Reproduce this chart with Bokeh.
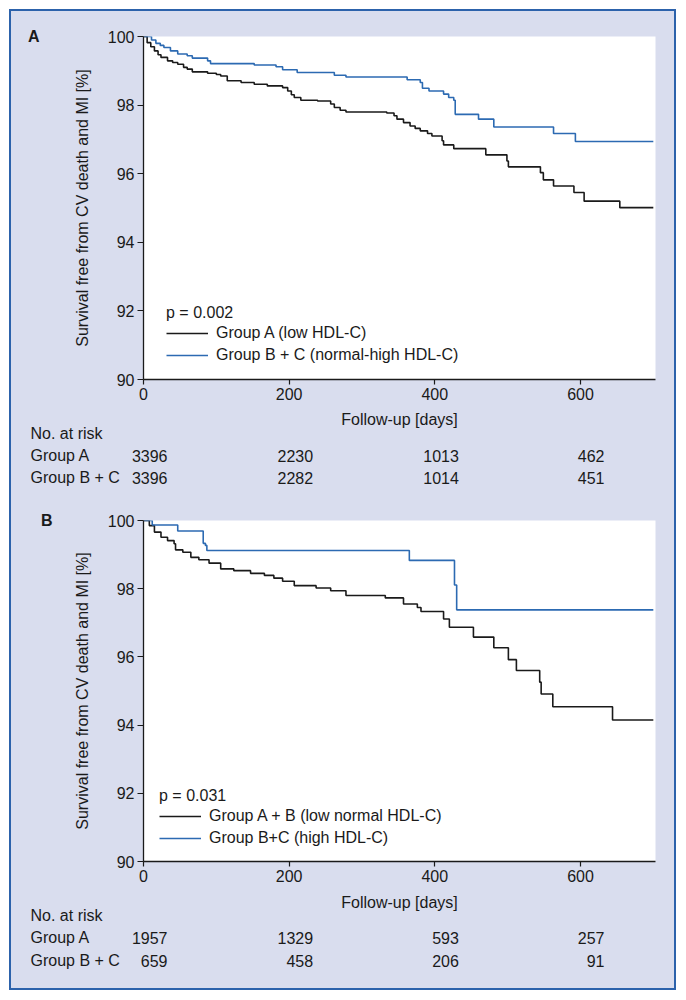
from bokeh.plotting import figure
from bokeh.layouts import column
from bokeh.models import (Range1d, FixedTicker, Legend, LinearAxis, ColumnDataSource)
from bokeh.core.properties import value
from bokeh.embed import file_html
from bokeh.resources import INLINE

# ---------------- data ----------------
x_ticks = [0, 200, 400, 600]
y_ticks = [90, 92, 94, 96, 98, 100]

# Panel A
a_black_t = [0, 5, 10, 15, 20, 24, 33, 40, 47, 55, 60, 67, 88, 100, 106, 115, 134, 152, 170, 191,
             198, 203, 207, 216, 239, 257, 262, 270, 278, 334, 344, 348, 357, 366, 373, 380, 390,
             396, 410, 412, 426, 470, 499, 501, 545, 549, 563, 591, 605, 654, 700]
a_black_s = [100, 99.82, 99.70, 99.58, 99.47, 99.39, 99.29, 99.24, 99.19, 99.10, 99.05, 98.97, 98.93,
             98.89, 98.85, 98.71, 98.66, 98.61, 98.56, 98.51, 98.41, 98.30, 98.22, 98.14, 98.12,
             98.03, 97.93, 97.85, 97.80, 97.77, 97.69, 97.59, 97.49, 97.39, 97.32, 97.25, 97.17,
             97.10, 96.96, 96.84, 96.73, 96.55, 96.37, 96.20, 96.03, 95.82, 95.64, 95.45, 95.20,
             95.01, 95.01]
a_blue_t = [0, 11, 17, 23, 28, 37, 47, 60, 67, 88, 92, 152, 182, 191, 211, 262, 278, 362, 380, 383,
            392, 412, 419, 426, 428, 460, 481, 563, 593, 700]
a_blue_s = [100, 99.90, 99.80, 99.74, 99.68, 99.58, 99.49, 99.44, 99.37, 99.29, 99.21, 99.17, 99.12,
            99.03, 98.95, 98.87, 98.82, 98.74, 98.66, 98.49, 98.41, 98.32, 98.22, 98.14, 97.73,
            97.59, 97.36, 97.17, 96.94, 96.94]
a_p = "p = 0.002"
a_names = ["Group A (low HDL-C)", "Group B + C (normal-high HDL-C)"]
a_risk_black = ["3396", "2230", "1013", "462"]
a_risk_blue = ["3396", "2282", "1014", "451"]

# Panel B
b_black_t = [0, 8, 15, 24, 33, 42, 44, 54, 65, 76, 90, 106, 124, 147, 166, 179, 191, 207, 237, 257,
             278, 332, 357, 376, 381, 412, 420, 453, 481, 501, 512, 544, 546, 562, 644, 700]
b_black_s = [100, 99.85, 99.66, 99.51, 99.41, 99.32, 99.14, 99.07, 98.92, 98.85, 98.75, 98.58,
             98.53, 98.45, 98.39, 98.31, 98.22, 98.09, 98.02, 97.94, 97.80, 97.73, 97.55, 97.45,
             97.33, 97.11, 96.87, 96.58, 96.27, 95.92, 95.60, 95.26, 94.91, 94.54, 94.15, 94.15]
b_blue_t = [0, 12, 47, 82, 85, 87, 365, 427, 430, 700]
b_blue_s = [100, 99.87, 99.69, 99.33, 99.27, 99.12, 98.83, 98.11, 97.38, 97.38]
b_p = "p = 0.031"
b_names = ["Group A + B (low normal HDL-C)", "Group B+C (high HDL-C)"]
b_risk_black = ["1957", "1329", "593", "257"]
b_risk_blue = ["659", "458", "206", "91"]

x_label = "Follow-up [days]"
y_label = "Survival free from CV death and MI [%]"
row_labels = ["No. at risk", "Group A", "Group B + C"]

# ---------------- style / layout ----------------
FONT = "Liberation Sans"
FS = "16px"
BG = "#d9ddee"
BLACK = "#1a1a1a"
BLUE = "#2c6ab2"
TXT = "#1a1a1a"

W = 663            # canvas width
LEFT, RIGHT = 132, 19
FRAME_W = W - LEFT - RIGHT
X_END = 703
K = X_END / FRAME_W  # days per pixel


def km_panel(letter, letter_standoff, t1, s1, t2, s2, ptxt, names, height, top, bottom, legend_loc):
    p = figure(width=W, height=height, output_backend="svg", toolbar_location=None,
               x_range=Range1d(0, X_END), y_range=Range1d(90, 100),
               min_border_left=LEFT, min_border_right=RIGHT, min_border_top=top,
               min_border_bottom=bottom, frame_align=False)
    p.background_fill_color = "white"
    p.border_fill_color = BG
    p.outline_line_color = None
    p.grid.visible = False

    r1 = p.step(t1, s1, mode="after", line_color=BLACK, line_width=1.6)
    r2 = p.step(t2, s2, mode="after", line_color=BLUE, line_width=1.6)

    for ax in (p.xaxis[0], p.yaxis[0]):
        ax.axis_line_color = BLACK
        ax.axis_line_width = 1.3
        ax.major_tick_line_color = BLACK
        ax.major_tick_line_width = 1.2
        ax.minor_tick_line_color = None
        ax.major_tick_in = 0
        ax.major_label_text_font = FONT
        ax.major_label_text_font_size = FS
        ax.major_label_text_color = TXT
        ax.axis_label_text_font = FONT
        ax.axis_label_text_font_size = FS
        ax.axis_label_text_font_style = "normal"
        ax.axis_label_text_color = TXT
    p.xaxis.ticker = FixedTicker(ticks=x_ticks)
    p.yaxis.ticker = FixedTicker(ticks=y_ticks)
    p.xaxis.major_tick_out = 5
    p.yaxis.major_tick_out = 6
    p.xaxis.major_label_standoff = 3
    p.yaxis.major_label_standoff = 3
    p.yaxis.axis_label = y_label
    p.yaxis.axis_label_standoff = 14

    # panel letter, drawn as a bare label axis at the level of the top tick
    lab = LinearAxis(ticker=FixedTicker(ticks=[100]), major_label_overrides={100: letter},
                     axis_line_color=None, major_tick_line_color=None,
                     minor_tick_line_color=None, major_tick_out=0, major_tick_in=0,
                     major_label_standoff=letter_standoff, major_label_text_font=FONT,
                     major_label_text_font_size=FS, major_label_text_font_style="bold",
                     major_label_text_color=TXT)
    p.add_layout(lab, "left")

    leg = Legend(items=[(names[0], [r1]), (names[1], [r2])], title=ptxt,
                 location=legend_loc, orientation="vertical")
    leg.title_text_font = FONT
    leg.title_text_font_size = FS
    leg.title_text_font_style = "normal"
    leg.title_text_color = TXT
    leg.title_standoff = 0
    leg.label_text_font = FONT
    leg.label_text_font_size = FS
    leg.label_text_color = TXT
    leg.glyph_width = 42
    leg.glyph_height = 22
    leg.label_height = 22
    leg.label_standoff = 8
    leg.spacing = 0
    leg.padding = 0
    leg.margin = 0
    leg.background_fill_alpha = 0
    leg.border_line_alpha = 0
    p.add_layout(leg)
    return p


def risk_panel(height, rows_y, risk1, risk2):
    # full-width frame; x range aligned with the survival plot above it
    t = figure(width=W, height=height, output_backend="svg", toolbar_location=None,
               x_range=Range1d(-LEFT * K, X_END + RIGHT * K), y_range=Range1d(height, 0),
               x_axis_type=None, y_axis_type=None, frame_align=False,
               min_border_left=0, min_border_right=0, min_border_top=0, min_border_bottom=0)
    t.background_fill_color = BG
    t.border_fill_color = BG
    t.outline_line_color = None
    t.grid.visible = False
    common = dict(text_font=value(FONT), text_font_size=value(FS), text_color=TXT,
                  text_baseline="middle")
    t.text(x=[X_END / 2], y=[rows_y[0]], text=[x_label], text_align="center", **common)
    t.text(x=[-LEFT * K] * 3, y=rows_y[1:], text=row_labels, x_offset=19,
           text_align="left", **common)
    src1 = ColumnDataSource(dict(t=x_ticks, v=risk1))
    src2 = ColumnDataSource(dict(t=x_ticks, v=risk2))
    t.text(x="t", y=rows_y[2], text="v", source=src1, x_offset=24, text_align="right", **common)
    t.text(x="t", y=rows_y[3], text="v", source=src2, x_offset=24, text_align="right", **common)
    return t


pa = km_panel("A", 31, a_black_t, a_black_s, a_blue_t, a_blue_s, a_p, a_names,
              396, 25, 28, (23, 13))
ta = risk_panel(93, [12, 25.7, 48, 70.3], a_risk_black, a_risk_blue)
pb = km_panel("B", 18, b_black_t, b_black_s, b_blue_t, b_blue_s, b_p, b_names,
              389, 20, 28, (16, 12))
tb = risk_panel(99, [12.7, 26, 48.3, 71], b_risk_black, b_risk_blue)

layout = column(pa, ta, pb, tb, spacing=0,
                styles={"border": "2px solid #2c62ab", "background-color": BG,
                        "margin": "9px 0 0 9px"})

open("out.html", "w").write(file_html(layout, INLINE))
